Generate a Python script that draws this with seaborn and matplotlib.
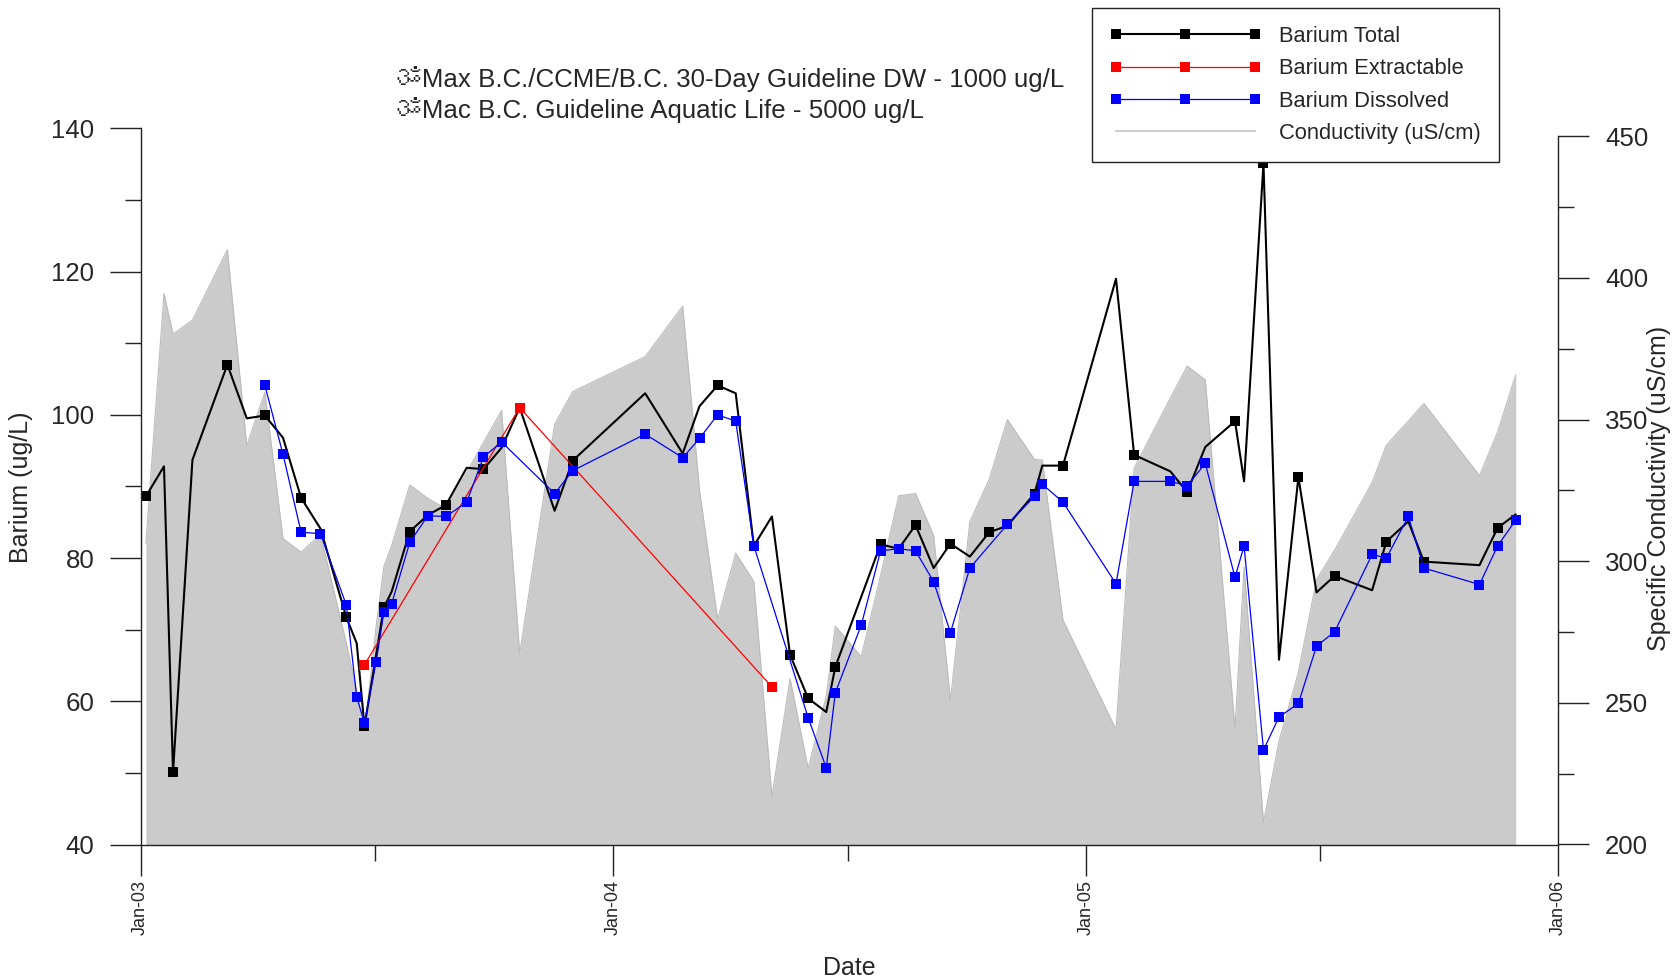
import pandas as pd
import matplotlib
matplotlib.use("Agg")
import matplotlib.pyplot as plt
import matplotlib.dates as mdates
from matplotlib.ticker import MultipleLocator
from matplotlib.lines import Line2D
from matplotlib import font_manager, ft2font
import seaborn as sns

# Barium Total (ug/L)
total_dates = ["2003-01-05", "2003-01-19", "2003-01-26", "2003-02-10", "2003-03-09", "2003-03-24",
               "2003-04-07", "2003-04-21", "2003-05-05", "2003-05-20", "2003-06-09", "2003-06-17",
               "2003-06-23", "2003-07-08", "2003-07-14", "2003-07-28", "2003-08-11", "2003-08-25",
               "2003-09-10", "2003-09-23", "2003-10-07", "2003-10-21", "2003-11-17", "2003-12-01",
               "2004-01-26", "2004-02-24", "2004-03-08", "2004-03-22", "2004-04-05", "2004-04-19",
               "2004-05-03", "2004-05-17", "2004-05-31", "2004-06-14", "2004-06-21", "2004-07-26",
               "2004-08-09", "2004-08-22", "2004-09-05", "2004-09-18", "2004-10-03", "2004-10-18",
               "2004-11-01", "2004-11-22", "2004-11-28", "2004-12-14", "2005-01-24", "2005-02-07",
               "2005-03-07", "2005-03-20", "2005-04-03", "2005-04-26", "2005-05-03", "2005-05-18",
               "2005-05-30", "2005-06-14", "2005-06-28", "2005-07-12", "2005-08-10", "2005-08-21",
               "2005-09-07", "2005-09-19", "2005-11-01", "2005-11-15", "2005-11-29"]
total_vals = [88.6, 92.8, 50.1, 93.7, 107.0, 99.5, 99.9, 96.8, 88.4, 84.1,
              71.7, 68.1, 56.5, 73.1, 75.3, 83.7, 86.0, 87.4, 92.6, 92.4,
              95.4, 101.0, 86.6, 93.6, 103.0, 94.6, 101.2, 104.1, 103.0, 81.7,
              85.8, 66.5, 60.4, 58.5, 64.8, 81.9, 81.3, 84.6, 78.6, 82.0,
              80.2, 83.6, 84.5, 89.0, 92.9, 92.9, 119.0, 94.4, 92.1, 89.2,
              95.5, 99.1, 90.7, 135.1, 65.8, 91.3, 75.2, 77.5, 75.5, 82.3,
              85.1, 79.5, 79.0, 84.2, 86.1]
# samples of the total series that carry a square marker
total_marked = ["2003-01-05", "2003-01-26", "2003-03-09", "2003-04-07", "2003-05-05", "2003-06-09",
                "2003-06-23", "2003-07-08", "2003-07-28", "2003-08-25", "2003-09-23", "2003-10-21",
                "2003-12-01", "2004-03-22", "2004-05-17", "2004-05-31", "2004-06-21", "2004-07-26",
                "2004-08-22", "2004-09-18", "2004-10-18", "2004-11-22", "2004-12-14", "2005-02-07",
                "2005-03-20", "2005-04-26", "2005-05-18", "2005-06-14", "2005-07-12", "2005-08-21",
                "2005-09-19", "2005-11-15"]

# Barium Extractable (ug/L)
ext_dates = ["2003-06-23", "2003-10-21", "2004-05-03"]
ext_vals = [65.1, 101.0, 62.0]

# Barium Dissolved (ug/L)
diss_dates = ["2003-04-07", "2003-04-21", "2003-05-05", "2003-05-20", "2003-06-09", "2003-06-17",
              "2003-06-23", "2003-07-02", "2003-07-08", "2003-07-14", "2003-07-28", "2003-08-11",
              "2003-08-25", "2003-09-10", "2003-09-23", "2003-10-07", "2003-11-17", "2003-12-01",
              "2004-01-26", "2004-02-24", "2004-03-08", "2004-03-22", "2004-04-05", "2004-04-19",
              "2004-05-31", "2004-06-14", "2004-06-21", "2004-07-11", "2004-07-26", "2004-08-09",
              "2004-08-22", "2004-09-05", "2004-09-18", "2004-10-03", "2004-11-01", "2004-11-22",
              "2004-11-28", "2004-12-14", "2005-01-24", "2005-02-07", "2005-03-07", "2005-03-20",
              "2005-04-03", "2005-04-26", "2005-05-03", "2005-05-18", "2005-05-30", "2005-06-14",
              "2005-06-28", "2005-07-12", "2005-08-10", "2005-08-21", "2005-09-07", "2005-09-19",
              "2005-11-01", "2005-11-15", "2005-11-29"]
diss_vals = [104.1, 94.5, 83.6, 83.4, 73.4, 60.6, 57.0, 65.5, 72.5, 73.6,
             82.2, 85.9, 85.8, 87.8, 94.1, 96.2, 89.0, 92.2, 97.3, 94.0,
             96.7, 100.0, 99.1, 81.7, 57.7, 50.7, 61.2, 70.6, 81.0, 81.3,
             81.0, 76.7, 69.6, 78.6, 84.7, 88.6, 90.3, 87.8, 76.4, 90.7,
             90.7, 90.1, 93.2, 77.3, 81.7, 53.2, 57.8, 59.7, 67.7, 69.7,
             80.5, 80.0, 85.8, 78.6, 76.3, 81.7, 85.3]

# Specific conductivity (uS/cm)
cond_dates = ["2003-01-05", "2003-01-19", "2003-01-26", "2003-02-10", "2003-03-09", "2003-03-24",
              "2003-04-07", "2003-04-21", "2003-05-05", "2003-05-20", "2003-06-09", "2003-06-17",
              "2003-06-23", "2003-07-02", "2003-07-08", "2003-07-14", "2003-07-28", "2003-08-11",
              "2003-08-25", "2003-09-10", "2003-09-23", "2003-10-07", "2003-10-21", "2003-11-17",
              "2003-12-01", "2004-01-26", "2004-02-24", "2004-03-08", "2004-03-22", "2004-04-05",
              "2004-04-19", "2004-05-03", "2004-05-17", "2004-05-31", "2004-06-14", "2004-06-21",
              "2004-07-11", "2004-07-26", "2004-08-09", "2004-08-22", "2004-09-05", "2004-09-18",
              "2004-10-03", "2004-10-18", "2004-11-01", "2004-11-22", "2004-11-28", "2004-12-14",
              "2005-01-24", "2005-02-07", "2005-03-07", "2005-03-20", "2005-04-03", "2005-04-26",
              "2005-05-03", "2005-05-18", "2005-05-30", "2005-06-14", "2005-06-28", "2005-07-12",
              "2005-08-10", "2005-08-21", "2005-09-07", "2005-09-19", "2005-11-01", "2005-11-15",
              "2005-11-29"]
cond_vals = [306.3, 394.5, 380.2, 385.1, 410.0, 340.8, 359.6, 308.0, 303.2, 309.5,
             271.0, 254.0, 240.0, 277.0, 298.2, 305.5, 326.9, 322.2, 318.5, 331.4,
             341.9, 353.2, 267.4, 348.3, 359.9, 372.2, 390.1, 325.1, 279.5, 302.9,
             292.8, 217.0, 258.6, 226.8, 252.5, 277.1, 266.3, 295.0, 323.1, 323.9,
             309.1, 251.0, 313.9, 329.0, 350.0, 335.9, 335.7, 279.2, 240.6, 332.8,
             357.6, 368.9, 364.0, 241.0, 298.0, 207.8, 236.5, 260.8, 293.6, 303.9,
             327.8, 341.0, 349.5, 355.7, 330.2, 345.6, 365.8]

guide_lines = ["\u0950Max B.C./CCME/B.C. 30-Day Guideline DW - 1000 ug/L",
               "\u0950Mac B.C. Guideline Aquatic Life - 5000 ug/L"]

W, H = 1676, 980


def font_with(ch):
    # first installed family that has a glyph for ch
    for f in font_manager.fontManager.ttflist:
        try:
            if ord(ch) in ft2font.FT2Font(f.fname).get_charmap():
                return f.name
        except Exception:
            continue
    return None


def fx(px):
    return px / W


def fy(py):
    return 1 - py / H


sns.set_theme(style="ticks")
families = ["Liberation Sans"]
om_font = font_with("\u0950")
if om_font:
    families.append(om_font)
families.append("DejaVu Sans")
plt.rcParams["font.family"] = families

total = pd.DataFrame({"date": pd.to_datetime(total_dates), "value": total_vals})
ext = pd.DataFrame({"date": pd.to_datetime(ext_dates), "value": ext_vals})
diss = pd.DataFrame({"date": pd.to_datetime(diss_dates), "value": diss_vals})
cond = pd.DataFrame({"date": pd.to_datetime(cond_dates), "value": cond_vals})
marked_idx = [i for i, d in enumerate(total_dates) if d in total_marked]

fig = plt.figure(figsize=(W / 100, H / 100), dpi=100)
left, right = fx(140.7), fx(1558.4)
bottom = fy(844.5)
ax1 = fig.add_axes([left, bottom, right - left, fy(128.3) - bottom])
ax2 = fig.add_axes([left, bottom, right - left, fy(136.3) - bottom])
ax2.set_zorder(0)
ax1.set_zorder(1)
ax1.patch.set_visible(False)

x0, x1 = pd.Timestamp("2003-01-01"), pd.Timestamp("2006-01-01")

# conductivity area (right axis)
ax2.fill_between(cond["date"], 200, cond["value"], color="#cbcbcb", lw=0)
sns.lineplot(data=cond, x="date", y="value", ax=ax2, color="#bcbcbc", lw=0.8)
ax2.set_xlim(x0, x1)
ax2.set_ylim(200, 450)
ax2.yaxis.tick_right()
ax2.yaxis.set_major_locator(MultipleLocator(50))
ax2.yaxis.set_minor_locator(MultipleLocator(25))
ax2.xaxis.set_visible(False)
for s in ["left", "top", "bottom"]:
    ax2.spines[s].set_visible(False)
ax2.set_xlabel("")
ax2.set_ylabel("")

line_kw = dict(marker="s", markersize=6.5, markeredgewidth=0)
sns.lineplot(data=total, x="date", y="value", ax=ax1, color="black", lw=1.5,
             markevery=marked_idx, markeredgecolor="black", **line_kw)
sns.lineplot(data=ext, x="date", y="value", ax=ax1, color="#ff0000", lw=0.9,
             markeredgecolor="#ff0000", **line_kw)
sns.lineplot(data=diss, x="date", y="value", ax=ax1, color="#0000ff", lw=0.9,
             markeredgecolor="#0000ff", **line_kw)

ax1.set_xlim(x0, x1)
ax1.set_ylim(40, 140)
ax1.yaxis.set_major_locator(MultipleLocator(20))
ax1.yaxis.set_minor_locator(MultipleLocator(10))
ax1.xaxis.set_major_locator(mdates.YearLocator())
ax1.xaxis.set_minor_locator(mdates.MonthLocator(bymonth=7))
ax1.xaxis.set_major_formatter(mdates.DateFormatter("%b-%y"))
ax1.spines["top"].set_visible(False)
ax1.spines["right"].set_visible(False)
ax1.set_xlabel("")
ax1.set_ylabel("")

for ax in (ax1, ax2):
    for s in ax.spines.values():
        s.set_color("#222222")
        s.set_linewidth(1.0)
    ax.tick_params(which="major", length=22.5, width=1.0, color="#222222")
    ax.tick_params(which="minor", length=11.5, width=1.0, color="#222222")
    ax.tick_params(axis="y", which="major", labelsize=18.6, pad=11)
ax1.tick_params(axis="x", which="major", labelsize=13, labelrotation=90, pad=3)

fig.text(fx(21.4), fy(487.4), "Barium (ug/L)", rotation=90, ha="center", va="center", fontsize=18)
fig.text(fx(1659), fy(488.5), "Specific Conductivity (uS/cm)", rotation=90, ha="center",
         va="center", fontsize=18)
fig.text(fx(849.5), fy(968), "Date", ha="center", va="center", fontsize=18)
fig.text(fx(395.5), fy(79), guide_lines[0], ha="left", va="center", fontsize=18.6)
fig.text(fx(395.5), fy(110), guide_lines[1], ha="left", va="center", fontsize=18.6)

handles = [Line2D([], [], color="black", lw=1.5, **line_kw, markeredgecolor="black"),
           Line2D([], [], color="#ff0000", lw=0.9, **line_kw, markeredgecolor="#ff0000"),
           Line2D([], [], color="#0000ff", lw=0.9, **line_kw, markeredgecolor="#0000ff"),
           Line2D([], [], color="#cccccc", lw=1.5)]
labels = ["Barium Total", "Barium Extractable", "Barium Dissolved", "Conductivity (uS/cm)"]
leg = fig.legend(handles, labels, loc="upper left", bbox_to_anchor=(fx(1092), fy(8.5)),
                 bbox_transform=fig.transFigure, borderaxespad=0, fancybox=False,
                 framealpha=1, edgecolor="#222222", fontsize=15.75, numpoints=3,
                 handlelength=6.94, handletextpad=0.83,
                 borderpad=0.8, labelspacing=0.52)
leg.get_frame().set_linewidth(1.0)
leg.set_zorder(5)

fig.savefig("out.png", dpi=100)
